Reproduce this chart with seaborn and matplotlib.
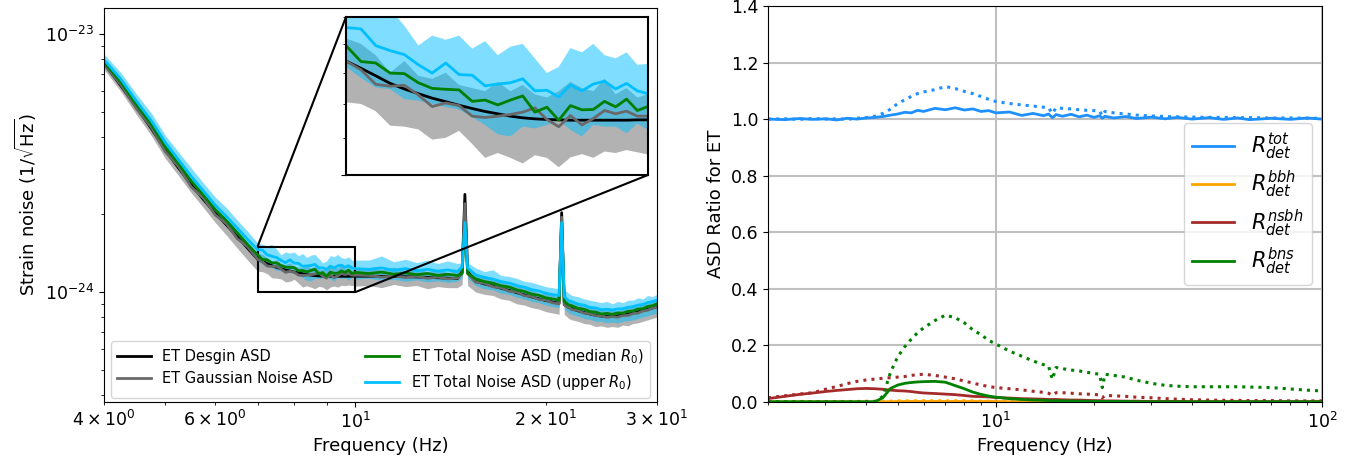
import numpy as np
import matplotlib
matplotlib.use("Agg")
import matplotlib.pyplot as plt
import seaborn as sns
from matplotlib.ticker import NullFormatter, NullLocator
from mpl_toolkits.axes_grid1.inset_locator import mark_inset

plt.rcParams["font.size"] = 12.5
plt.rcParams["axes.labelsize"] = 13

# ---------------- left panel: strain noise (values in units of 1e-24) ----------------
freq = [4.0, 4.25, 4.5, 4.75, 5.0, 5.25, 5.5, 5.75, 6.0, 6.25, 6.5, 6.75, 7.0,
        7.125, 7.25, 7.375, 7.5, 7.625, 7.75, 7.875, 8.0, 8.125, 8.25, 8.375, 8.5,
        8.625, 8.75, 8.875, 9.0, 9.125, 9.25, 9.375, 9.5, 9.625, 9.75, 9.875, 10.0,
        10.5, 11.0, 11.5, 12.0, 12.5, 13.0, 13.5, 14.0, 14.5,
        14.75, 14.9, 15.05,
        15.5, 16.0, 16.5, 17.0, 17.5, 18.0, 18.5, 19.0, 19.5, 20.0, 20.5,
        21.0, 21.2, 21.4,
        21.75, 22.0, 22.5, 23.0, 23.5, 24.0, 24.5, 25.0, 25.5, 26.0, 26.5, 27.0,
        27.5, 28.0, 28.5, 29.0, 29.5, 30.0]

design = [7.70, 6.32, 5.20, 4.31, 3.55, 3.02, 2.60, 2.28, 2.02, 1.82, 1.64, 1.48, 1.34,
          1.315, 1.290, 1.265, 1.247, 1.232, 1.218, 1.207, 1.196, 1.186, 1.177, 1.170, 1.163,
          1.158, 1.155, 1.153, 1.152, 1.151, 1.151, 1.151, 1.151, 1.151, 1.151, 1.152, 1.152,
          1.152, 1.151, 1.149, 1.147, 1.144, 1.140, 1.136, 1.132, 1.128,
          1.20, 2.39, 1.20,
          1.10, 1.075, 1.055, 1.035, 1.015, 0.995, 0.975, 0.958, 0.942, 0.928, 0.915,
          0.905, 2.03, 0.895,
          0.872, 0.862, 0.846, 0.833, 0.822, 0.813, 0.807, 0.804, 0.804, 0.808, 0.815, 0.822,
          0.830, 0.838, 0.847, 0.857, 0.867, 0.878]

gaussian = [7.62, 6.38, 5.14, 4.36, 3.50, 3.06, 2.55, 2.31, 1.99, 1.84, 1.61, 1.50, 1.340,
            1.310, 1.262, 1.256, 1.259, 1.228, 1.192, 1.203, 1.195, 1.163, 1.159, 1.163, 1.168,
            1.175, 1.188, 1.153, 1.132, 1.165, 1.137, 1.156, 1.180, 1.170, 1.178, 1.163, 1.163,
            1.160, 1.142, 1.155, 1.138, 1.150, 1.131, 1.142, 1.125, 1.133,
            1.18, 2.20, 1.18,
            1.092, 1.081, 1.048, 1.040, 1.008, 1.001, 0.968, 0.962, 0.936, 0.932, 0.909,
            0.90, 1.95, 0.89,
            0.874, 0.855, 0.849, 0.828, 0.825, 0.809, 0.809, 0.798, 0.804, 0.799, 0.811, 0.812,
            0.826, 0.829, 0.845, 0.850, 0.868, 0.874]

median_r0 = [7.80, 6.52, 5.33, 4.47, 3.66, 3.13, 2.69, 2.37, 2.09, 1.89, 1.70, 1.53, 1.394,
             1.338, 1.333, 1.299, 1.297, 1.267, 1.249, 1.246, 1.244, 1.208, 1.212, 1.197, 1.212,
             1.225, 1.175, 1.190, 1.151, 1.195, 1.182, 1.183, 1.208, 1.191, 1.215, 1.180, 1.192,
             1.180, 1.195, 1.172, 1.186, 1.168, 1.180, 1.160, 1.172, 1.158,
             1.18, 1.85, 1.18,
             1.125, 1.098, 1.083, 1.058, 1.046, 1.020, 1.006, 0.982, 0.972, 0.950, 0.941,
             0.93, 1.85, 0.92,
             0.892, 0.885, 0.865, 0.858, 0.840, 0.836, 0.822, 0.827, 0.820, 0.830, 0.829, 0.842,
             0.845, 0.860, 0.862, 0.880, 0.885, 0.900]

upper_r0 = [7.95, 6.70, 5.50, 4.62, 3.80, 3.25, 2.80, 2.46, 2.17, 1.96, 1.77, 1.60, 1.460,
            1.455, 1.394, 1.376, 1.362, 1.327, 1.299, 1.333, 1.294, 1.292, 1.257, 1.263, 1.267,
            1.280, 1.241, 1.243, 1.222, 1.260, 1.241, 1.263, 1.272, 1.247, 1.265, 1.241, 1.232,
            1.225, 1.240, 1.215, 1.232, 1.210, 1.225, 1.205, 1.218, 1.200,
            1.25, 1.86, 1.24,
            1.165, 1.140, 1.122, 1.098, 1.084, 1.060, 1.044, 1.022, 1.010, 0.990, 0.978,
            0.97, 1.86, 0.96,
            0.925, 0.918, 0.898, 0.890, 0.872, 0.868, 0.855, 0.858, 0.852, 0.860, 0.862, 0.872,
            0.878, 0.890, 0.895, 0.910, 0.918, 0.930]

upper_band_hi = [8.35, 7.10, 5.85, 4.95, 4.05, 3.48, 3.02, 2.64, 2.33, 2.12, 1.90, 1.72, 1.55,
                 1.53, 1.51, 1.53, 1.467, 1.394, 1.43, 1.415, 1.43, 1.383, 1.41, 1.36, 1.39,
                 1.40, 1.349, 1.299, 1.32, 1.385, 1.37, 1.40, 1.36, 1.349, 1.37, 1.327, 1.33,
                 1.33, 1.38, 1.31, 1.34, 1.30, 1.33, 1.29, 1.32, 1.29,
                 1.30, 1.92, 1.30,
                 1.24, 1.20, 1.22, 1.16, 1.15, 1.13, 1.10, 1.09, 1.07, 1.05, 1.04,
                 1.03, 1.92, 1.02,
                 0.99, 0.97, 0.96, 0.94, 0.93, 0.92, 0.91, 0.92, 0.90, 0.92, 0.91, 0.93,
                 0.93, 0.95, 0.94, 0.97, 0.96, 0.98]

upper_band_lo = [7.55, 6.20, 5.10, 4.25, 3.48, 2.98, 2.56, 2.24, 1.99, 1.79, 1.61, 1.46, 1.32,
                 1.283, 1.252, 1.246, 1.215, 1.21, 1.20, 1.191, 1.183, 1.16, 1.137, 1.11, 1.104,
                 1.132, 1.127, 1.137, 1.151, 1.123, 1.104, 1.137, 1.132, 1.132, 1.113, 1.141, 1.123,
                 1.13, 1.11, 1.12, 1.10, 1.115, 1.095, 1.105, 1.09, 1.10,
                 1.14, 1.80, 1.13,
                 1.06, 1.03, 1.02, 0.99, 0.98, 0.955, 0.94, 0.92, 0.91, 0.89, 0.88,
                 0.87, 1.80, 0.86,
                 0.83, 0.82, 0.805, 0.79, 0.785, 0.77, 0.77, 0.76, 0.765, 0.76, 0.77, 0.775,
                 0.78, 0.79, 0.80, 0.81, 0.82, 0.83]

gauss_band_hi = [7.90, 6.55, 5.35, 4.50, 3.65, 3.15, 2.68, 2.38, 2.08, 1.88, 1.68, 1.53, 1.42,
                 1.40, 1.36, 1.30, 1.34, 1.29, 1.28, 1.30, 1.26, 1.25, 1.24, 1.27, 1.24,
                 1.26, 1.23, 1.22, 1.24, 1.27, 1.25, 1.24, 1.28, 1.23, 1.25, 1.22, 1.23,
                 1.24, 1.22, 1.25, 1.21, 1.23, 1.20, 1.22, 1.19, 1.21,
                 1.24, 2.30, 1.23,
                 1.16, 1.15, 1.11, 1.10, 1.07, 1.06, 1.03, 1.02, 0.99, 0.99, 0.97,
                 0.96, 1.95, 0.95,
                 0.93, 0.91, 0.90, 0.88, 0.88, 0.86, 0.86, 0.85, 0.855, 0.85, 0.86, 0.865,
                 0.875, 0.88, 0.895, 0.90, 0.92, 0.93]

gauss_band_lo = [7.30, 6.00, 4.88, 4.05, 3.30, 2.82, 2.42, 2.12, 1.86, 1.66, 1.48, 1.33, 1.205,
                 1.20, 1.178, 1.135, 1.132, 1.124, 1.095, 1.10, 1.12, 1.083, 1.045, 1.058, 1.045,
                 1.03, 1.052, 1.045, 1.02, 1.046, 1.055, 1.045, 1.062, 1.058, 1.066, 1.06, 1.054,
                 1.06, 1.04, 1.07, 1.05, 1.06, 1.03, 1.05, 1.04, 1.04,
                 1.07, 2.10, 1.06,
                 1.00, 0.98, 0.97, 0.94, 0.93, 0.90, 0.89, 0.87, 0.86, 0.84, 0.83,
                 0.82, 1.80, 0.82,
                 0.79, 0.78, 0.77, 0.755, 0.75, 0.735, 0.74, 0.73, 0.735, 0.73, 0.745, 0.74,
                 0.755, 0.76, 0.77, 0.78, 0.79, 0.80]

# ---------------- right panel: ASD ratios ----------------
rfreq = [2.0, 2.25, 2.5, 2.75, 3.0, 3.25, 3.5, 3.75, 4.0, 4.25, 4.5, 4.75, 5.0, 5.25, 5.5,
         5.75, 6.0, 6.5, 7.0, 7.5, 8.0, 8.5, 9.0, 9.5, 10, 11, 12, 13, 14, 14.5, 14.9, 15.3,
         16, 17, 18, 19, 20, 20.8, 21.2, 21.6, 23, 25, 27, 30, 33, 36, 40, 45, 50, 55, 60,
         70, 80, 90, 100]

tot_med = [1.000, 0.998, 1.002, 0.999, 1.001, 0.997, 1.003, 1.000, 1.004, 1.006, 1.009, 1.014,
           1.018, 1.024, 1.022, 1.031, 1.027, 1.038, 1.033, 1.040, 1.032, 1.036, 1.027, 1.030,
           1.022, 1.025, 1.013, 1.020, 1.012, 1.018, 1.005, 1.016, 1.010, 1.017, 1.008, 1.014,
           1.006, 1.012, 1.003, 1.010, 1.004, 1.009, 1.002, 1.007, 1.001, 1.006, 1.000, 1.005,
           0.999, 1.004, 0.998, 1.003, 0.999, 1.004, 1.000]
tot_up = [1.000, 1.001, 0.999, 1.002, 1.000, 1.001, 0.999, 1.003, 1.005, 1.010, 1.020, 1.035,
          1.055, 1.068, 1.080, 1.090, 1.096, 1.104, 1.115, 1.108, 1.098, 1.090, 1.080, 1.070,
          1.062, 1.055, 1.050, 1.046, 1.042, 1.040, 1.020, 1.040, 1.038, 1.036, 1.033, 1.031,
          1.030, 1.028, 1.012, 1.027, 1.022, 1.018, 1.014, 1.011, 1.009, 1.008, 1.007, 1.006,
          1.006, 1.005, 1.005, 1.004, 1.004, 1.003, 1.003]
bbh_med = [0.001, 0.001, 0.001, 0.001, 0.001, 0.001, 0.001, 0.001, 0.001, 0.001, 0.001, 0.001,
           0.002, 0.002, 0.002, 0.002, 0.002, 0.002, 0.002, 0.002, 0.002, 0.002, 0.002, 0.002,
           0.002, 0.001, 0.001, 0.001, 0.001, 0.001, 0.001, 0.001, 0.001, 0.001, 0.001, 0.001,
           0.001, 0.001, 0.001, 0.001, 0.001, 0.001, 0.001, 0.001, 0.001, 0.001, 0.001, 0.001,
           0.001, 0.001, 0.001, 0.001, 0.001, 0.001, 0.001]
bbh_up = [0.001, 0.001, 0.001, 0.001, 0.002, 0.002, 0.002, 0.002, 0.003, 0.003, 0.003, 0.003,
          0.004, 0.004, 0.004, 0.004, 0.004, 0.004, 0.004, 0.004, 0.004, 0.004, 0.003, 0.003,
          0.003, 0.003, 0.003, 0.003, 0.003, 0.003, 0.002, 0.003, 0.003, 0.002, 0.002, 0.002,
          0.002, 0.002, 0.002, 0.002, 0.002, 0.002, 0.002, 0.002, 0.002, 0.002, 0.002, 0.002,
          0.002, 0.002, 0.002, 0.002, 0.002, 0.002, 0.002]
nsbh_med = [0.012, 0.020, 0.027, 0.032, 0.037, 0.041, 0.044, 0.047, 0.048, 0.047, 0.045, 0.042,
            0.040, 0.039, 0.037, 0.034, 0.032, 0.030, 0.028, 0.026, 0.023, 0.020, 0.019, 0.018,
            0.016, 0.014, 0.012, 0.011, 0.010, 0.009, 0.009, 0.009, 0.008, 0.007, 0.007, 0.006,
            0.005, 0.005, 0.005, 0.004, 0.004, 0.003, 0.003, 0.002, 0.002, 0.002, 0.001, 0.001,
            0.001, 0.001, 0.001, 0.001, 0.001, 0.001, 0.001]
nsbh_up = [0.015, 0.022, 0.028, 0.033, 0.045, 0.055, 0.065, 0.073, 0.078, 0.081, 0.084, 0.086,
           0.088, 0.090, 0.094, 0.097, 0.098, 0.094, 0.088, 0.082, 0.074, 0.067, 0.060, 0.055,
           0.051, 0.047, 0.043, 0.038, 0.034, 0.031, 0.024, 0.033, 0.033, 0.031, 0.029, 0.028,
           0.027, 0.025, 0.015, 0.023, 0.022, 0.020, 0.017, 0.015, 0.012, 0.010, 0.008, 0.007,
           0.006, 0.006, 0.005, 0.005, 0.004, 0.004, 0.004]
bns_med = [0.001, 0.001, 0.001, 0.001, 0.001, 0.001, 0.001, 0.001, 0.001, 0.001, 0.015, 0.048,
           0.060, 0.066, 0.069, 0.071, 0.072, 0.073, 0.070, 0.058, 0.047, 0.035, 0.027, 0.021,
           0.017, 0.012, 0.009, 0.007, 0.006, 0.005, 0.004, 0.005, 0.004, 0.004, 0.003, 0.003,
           0.003, 0.002, 0.002, 0.002, 0.002, 0.002, 0.001, 0.001, 0.001, 0.001, 0.001, 0.001,
           0.001, 0.001, 0.001, 0.001, 0.001, 0.001, 0.001]
bns_up = [0.001, 0.001, 0.001, 0.001, 0.001, 0.001, 0.001, 0.001, 0.001, 0.001, 0.020, 0.105,
          0.160, 0.195, 0.222, 0.245, 0.262, 0.288, 0.307, 0.298, 0.280, 0.255, 0.238, 0.218,
          0.205, 0.180, 0.162, 0.145, 0.132, 0.127, 0.080, 0.122, 0.118, 0.113, 0.110, 0.105,
          0.101, 0.098, 0.051, 0.098, 0.094, 0.088, 0.077, 0.066, 0.059, 0.056, 0.054, 0.054,
          0.054, 0.054, 0.053, 0.051, 0.046, 0.042, 0.039]

f = np.array(freq)
unit = 1e-24


def draw_noise(ax, legend=False):
    ax.fill_between(f, np.array(gauss_band_lo) * unit, np.array(gauss_band_hi) * unit,
                    color="gray", alpha=0.6, lw=0)
    ax.fill_between(f, np.array(upper_band_lo) * unit, np.array(upper_band_hi) * unit,
                    color="deepskyblue", alpha=0.5, lw=0)
    series = [(design, "black", "ET Desgin ASD"),
              (gaussian, "dimgray", "ET Gaussian Noise ASD"),
              (median_r0, "green", r"ET Total Noise ASD (median $R_0$)"),
              (upper_r0, "deepskyblue", r"ET Total Noise ASD (upper $R_0$)")]
    for vals, col, lab in series:
        sns.lineplot(x=f, y=np.array(vals) * unit, color=col, lw=2, ax=ax,
                     label=lab if legend else None)


fig = plt.figure(figsize=(13.61, 4.66), dpi=100)

# left panel
ax1 = fig.add_axes([0.0764, 0.1373, 0.4063, 0.8455])
draw_noise(ax1, legend=True)
ax1.set_xscale("log")
ax1.set_yscale("log")
ax1.set_xlim(4, 30)
ax1.set_ylim(3.75e-25, 1.26e-23)
ax1.set_xlabel("Frequency (Hz)")
ax1.set_ylabel(r"Strain noise (1/$\sqrt{\rm Hz}$)")
ax1.legend(loc="lower center", ncol=2, fontsize=10.5, handlelength=2.3,
           columnspacing=2.2, borderaxespad=0.3)

# inset zoom
axins = fig.add_axes([0.2542, 0.6245, 0.2219, 0.339])
draw_noise(axins)
axins.set_xscale("log")
axins.set_yscale("log")
axins.set_xlim(7, 10)
axins.set_ylim(1e-24, 1.5e-24)
axins.xaxis.set_major_locator(NullLocator())
axins.xaxis.set_minor_locator(NullLocator())
axins.yaxis.set_major_formatter(NullFormatter())
axins.yaxis.set_minor_formatter(NullFormatter())
for s in axins.spines.values():
    s.set_linewidth(1.5)
mark_inset(ax1, axins, loc1=2, loc2=4, fc="none", ec="black", lw=1.5)

# right panel
ax2 = fig.add_axes([0.5643, 0.1373, 0.407, 0.85])
rf = np.array(rfreq)
ratios = [(tot_med, tot_up, "dodgerblue", r"$R_{det}^{tot}$"),
          (bbh_med, bbh_up, "orange", r"$R_{det}^{bbh}$"),
          (nsbh_med, nsbh_up, "brown", r"$R_{det}^{nsbh}$"),
          (bns_med, bns_up, "green", r"$R_{det}^{bns}$")]
for med, up, col, lab in ratios:
    sns.lineplot(x=rf, y=med, color=col, lw=2, ax=ax2, label=lab)
    sns.lineplot(x=rf, y=up, color=col, lw=2.2, ls=":", ax=ax2)
ax2.set_xscale("log")
ax2.set_xlim(2, 100)
ax2.set_ylim(0, 1.4)
ax2.set_yticks(np.arange(0, 1.41, 0.2))
ax2.grid(True, which="major", color="#c0c0c0", lw=1.5)
ax2.set_axisbelow(True)
ax2.set_xlabel("Frequency (Hz)")
ax2.set_ylabel("ASD Ratio for ET")
ax2.legend(loc="center right", fontsize=15, handlelength=2.0, labelspacing=0.34)

fig.savefig("out.png", dpi=100)
